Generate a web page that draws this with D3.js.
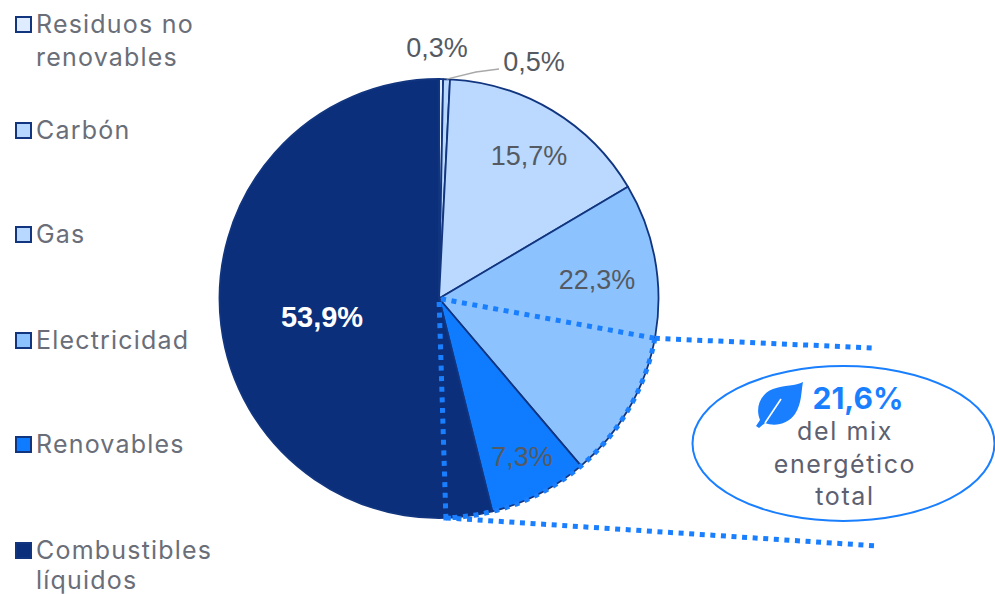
<!DOCTYPE html>
<html lang="es">
<head>
<meta charset="utf-8">
<script src="https://cdn.jsdelivr.net/npm/d3@7"></script>
<style>
  html, body { margin: 0; padding: 0; background: #fff; }
  svg { display: block; }
  .legend text, .note { font-family: "Inter", "Lato", sans-serif; fill: #6a6e78; font-size: 25px; letter-spacing: 1.2px; }
  .value { font-family: "Liberation Sans", Arial, sans-serif; font-size: 27px; fill: #555a62; text-anchor: middle; }
</style>
</head>
<body>
<svg id="chart" width="995" height="594"></svg>
<script>
// Mezcla energética: parts in clockwise order starting at twelve o'clock
const categories = ["Residuos no renovables", "Carbón", "Gas", "Electricidad", "Renovables", "Combustibles líquidos"];
const shares = [0.3, 0.5, 15.7, 22.3, 7.3, 53.9];
const shareLabels = ["0,3%", "0,5%", "15,7%", "22,3%", "7,3%", "53,9%"];
const sliceColors = ["#dfecff", "#b9d8ff", "#bbd9ff", "#8cc3ff", "#0f7bff", "#0b2f7a"];
const legendColors = ["#dfecff", "#b9d8ff", "#b9d8ff", "#8cc3ff", "#0f7bff", "#0b2f7a"];
const legendLines = [["Residuos no", "renovables"], ["Carbón"], ["Gas"], ["Electricidad"], ["Renovables"], ["Combustibles", "líquidos"]];
const renewableMix = 21.6;
const renewableMixEnd = 49.5; // cumulative share where the highlighted wedge ends
const noteLines = ["del mix", "energético", "total"];

const svg = d3.select("#chart");
const cx = 439, cy = 298.5, radius = 219.5;
const navy = "#12357f", accent = "#1a7fff";

const pie = d3.pie().value(d => d).sort(null);
const arc = d3.arc().innerRadius(0).outerRadius(radius);
const chart = svg.append("g").attr("transform", `translate(${cx},${cy})`);

chart.selectAll("path.slice")
  .data(pie(shares))
  .join("path")
  .attr("class", "slice")
  .attr("d", arc)
  .attr("fill", (d, i) => sliceColors[i])
  .attr("stroke", navy)
  .attr("stroke-width", 1.8)
  .attr("stroke-linejoin", "round");

// Highlighted wedge: the renewable share of the whole mix
const toAngle = d3.scaleLinear().domain([0, 100]).range([0, 2 * Math.PI]);
const wedgeStart = toAngle(renewableMixEnd - renewableMix);
const wedgeEnd = toAngle(renewableMixEnd);
const dotted = (sel) => sel
  .attr("fill", "none")
  .attr("stroke", accent)
  .attr("stroke-width", 5)
  .attr("stroke-dasharray", "5 5.6");
chart.append("path")
  .attr("d", arc({ startAngle: wedgeStart, endAngle: wedgeEnd }))
  .call(dotted);

const rim = (a) => [radius * Math.sin(a), -radius * Math.cos(a)];
const leaders = [
  [rim(wedgeStart), [873 - cx, 348 - cy]],
  [rim(wedgeEnd), [878 - cx, 546 - cy]]
];
chart.selectAll("line.leader")
  .data(leaders)
  .join("line")
  .attr("class", "leader")
  .attr("x1", d => d[0][0]).attr("y1", d => d[0][1])
  .attr("x2", d => d[1][0]).attr("y2", d => d[1][1])
  .call(dotted);

// Thin connector for the smallest outer label
const pies = pie(shares);
const mid = (d) => (d.startAngle + d.endAngle) / 2;
const thin = rim(mid(pies[1]));
chart.append("path")
  .attr("d", d3.line().curve(d3.curveLinear)([thin, [476 - cx, 72 - cy], [499 - cx, 69 - cy]]))
  .attr("fill", "none")
  .attr("stroke", "#a9a9a9")
  .attr("stroke-width", 1.4);

// Percentage labels
const labelPos = [[437, 47], [534, 61], [529, 155], [597, 279], [522, 456], [322, 317]];
svg.append("g").selectAll("text")
  .data(shareLabels)
  .join("text")
  .attr("class", "value")
  .attr("x", (d, i) => labelPos[i][0])
  .attr("y", (d, i) => labelPos[i][1] + 9.5)
  .attr("font-weight", (d, i) => i === 5 ? 700 : 400)
  .style("font-size", (d, i) => i === 5 ? "29px" : null)
  .style("fill", (d, i) => i === 5 ? "#ffffff" : null)
  .text(d => d);

// Legend
const legendY = [33, 139, 243, 349, 453, 559];
const legendGap = [33, 0, 0, 0, 0, 30];
const legend = svg.append("g").attr("class", "legend");
const item = legend.selectAll("g")
  .data(categories)
  .join("g")
  .attr("transform", (d, i) => `translate(0,${legendY[i]})`);
item.append("rect")
  .attr("x", 16).attr("y", -16).attr("width", 15).attr("height", 15)
  .attr("fill", (d, i) => legendColors[i])
  .attr("stroke", navy).attr("stroke-width", 2);
item.append("text")
  .attr("x", 36)
  .selectAll("tspan")
  .data((d, i) => legendLines[i].map(line => ({ line, gap: legendGap[i] })))
  .join("tspan")
  .attr("x", 36)
  .attr("dy", (d, i) => i ? d.gap : 0)
  .text(d => d.line);

// Callout
const callout = svg.append("g");
callout.append("ellipse")
  .attr("cx", 843.5).attr("cy", 443.5).attr("rx", 151).attr("ry", 77.5)
  .attr("fill", "#fff").attr("stroke", accent).attr("stroke-width", 2);
callout.append("path")
  .attr("d", "M803 382 C796 386 784 385 773 389 C760 394 755 408 760 420 L756 426 L759 428 L765 423 C775 427 788 424 795 414 C802 403 801 392 803 382 Z")
  .attr("fill", accent);
callout.append("path")
  .attr("d", "M765 423 L781 399")
  .attr("stroke", "#fff").attr("stroke-width", 1.6).attr("fill", "none");
callout.append("text")
  .attr("x", 858).attr("y", 409)
  .attr("text-anchor", "middle")
  .attr("font-family", "Inter, sans-serif")
  .attr("font-weight", 700)
  .attr("font-size", 30)
  .attr("fill", accent)
  .text(renewableMix.toFixed(1).replace(".", ",") + "%");
callout.selectAll("text.note")
  .data(noteLines)
  .join("text")
  .attr("class", "note")
  .attr("x", 845)
  .attr("y", (d, i) => 440 + i * 32.5)
  .attr("text-anchor", "middle")
  .style("fill", "#5c6070")
  .style("letter-spacing", "1.6px")
  .text(d => d);
</script>
</body>
</html>
